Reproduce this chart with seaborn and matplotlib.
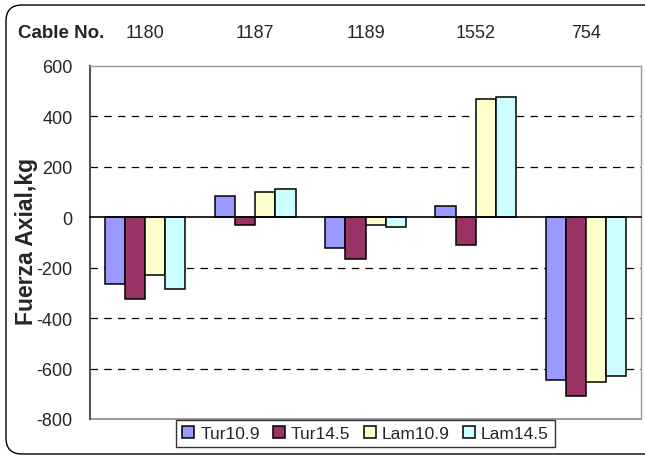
import matplotlib
matplotlib.use("Agg")
import matplotlib.pyplot as plt
from matplotlib.patches import FancyBboxPatch
import pandas as pd
import seaborn as sns

# Axial force per cable and load case
categories = ["1180", "1187", "1189", "1552", "754"]
series_names = ["Tur10.9", "Tur14.5", "Lam10.9", "Lam14.5"]
tur109 = [-266, 83, -123, 45, -644]
tur145 = [-325, -32, -167, -108, -708]
lam109 = [-227, 99, -29, 471, -655]
lam145 = [-285, 111, -38, 479, -628]
yticks = [600, 400, 200, 0, -200, -400, -600, -800]
colors = ["#9999FF", "#993366", "#FFFFCC", "#CCFFFF"]

rows = []
for name, vals in zip(series_names, [tur109, tur145, lam109, lam145]):
    for cat, v in zip(categories, vals):
        rows.append({"cable": cat, "fuerza": v, "serie": name})
df = pd.DataFrame(rows)

sns.set_style("white")
plt.rcParams["font.family"] = ["Liberation Sans", "DejaVu Sans"]

fig = plt.figure(figsize=(6.45, 4.6), dpi=100)
ax = fig.add_axes([90 / 645, 1 - 420 / 460, (641 - 90) / 645, (420 - 67) / 460])

sns.barplot(data=df, x="cable", y="fuerza", hue="serie", order=categories,
            hue_order=series_names, palette=colors, saturation=1,
            width=0.73, edgecolor="black", linewidth=1.1, ax=ax, zorder=3)

ax.set_xlim(-0.5, 4.5)
ax.set_ylim(-800, 600)
ax.set_yticks(yticks)
ax.set_yticklabels([str(t) for t in yticks], fontsize=13)
ax.tick_params(axis="y", direction="inout", length=9, width=1, color="#555555", pad=8)

# dashed gridlines
for t in yticks:
    if t not in (0, yticks[0], yticks[-1]):
        ax.axhline(t, color="black", lw=0.9, ls=(0, (6, 5)), zorder=0.5)

# category axis sits on the zero line, ticks between groups
ax.spines["bottom"].set_position(("data", 0))
ax.spines["bottom"].set_color("black")
ax.spines["bottom"].set_linewidth(1.2)
ax.spines["bottom"].set_zorder(4)
ax.set_xticks([0.5, 1.5, 2.5, 3.5, 4.5])
ax.set_xticklabels([])
ax.tick_params(axis="x", direction="out", length=6, width=1, color="#444444")
ax.set_xlabel("")

ax.spines["left"].set_color("#555555")
ax.spines["left"].set_linewidth(1.5)
for s in ("top", "right"):
    ax.spines[s].set_visible(True)
    ax.spines[s].set_color("#999999")
    ax.spines[s].set_linewidth(1)
ax.plot([0, 1], [0, 0], transform=ax.transAxes, color="#888888", lw=1.2,
        clip_on=False, zorder=2)

# category labels along the top
sec = ax.secondary_xaxis("top")
sec.set_xticks(range(len(categories)))
sec.set_xticklabels(categories, fontsize=13)
sec.tick_params(length=0, pad=18)
sec.spines["top"].set_visible(False)
fig.text(18 / 645, 1 - 33 / 460, "Cable No.", fontsize=13.5, fontweight="bold",
         ha="left", va="center")

ax.set_ylabel("")
fig.text(27 / 645, 1 - 241 / 460, "Fuerza Axial,kg", fontsize=16.5,
         fontweight="bold", rotation=90, ha="center", va="center")

leg = ax.legend(loc="upper center", bbox_to_anchor=(0.5, 0.0), ncol=4,
                fontsize=12.5, frameon=True, fancybox=False, edgecolor="black",
                handlelength=0.7, handleheight=0.7, handletextpad=0.35,
                columnspacing=0.75, borderpad=0.35, borderaxespad=0.05,
                title=None)
leg.get_frame().set_linewidth(1)
leg.set_zorder(10)

# rounded chart border
fig.add_artist(FancyBboxPatch((6, 5), 660, 449,
                              boxstyle="round,pad=0,rounding_size=16",
                              transform=None, fill=False, ec="black", lw=1))

fig.savefig("out.png", dpi=100)
